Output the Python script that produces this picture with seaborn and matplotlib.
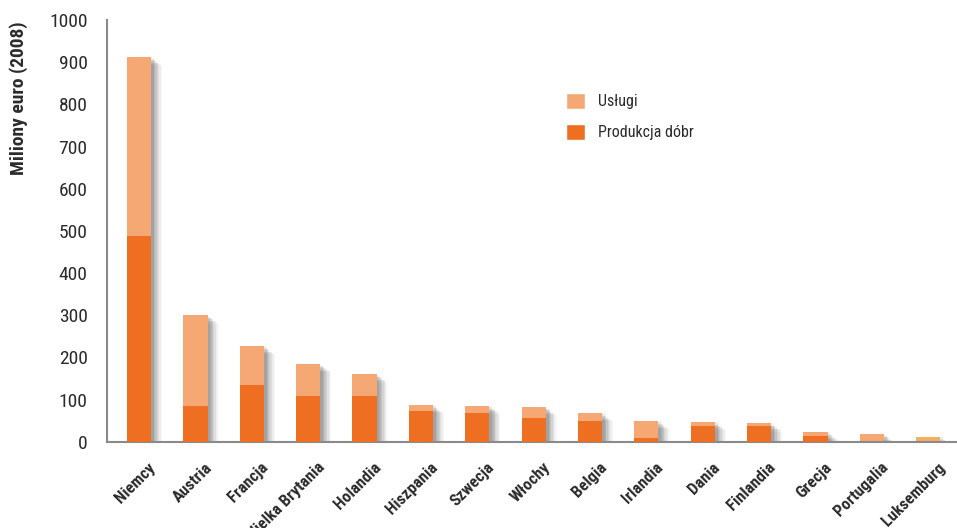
import numpy as np
import pandas as pd
import matplotlib
matplotlib.use("Agg")
import matplotlib.pyplot as plt
import matplotlib.patheffects as pe
import matplotlib.transforms as mtransforms
from matplotlib import font_manager
from matplotlib.patches import Patch
import seaborn as sns

# Data: million euro (2008)
countries = ["Niemcy", "Austria", "Francja", "Wielka Brytania", "Holandia",
             "Hiszpania", "Szwecja", "Włochy", "Belgia", "Irlandia", "Dania",
             "Finlandia", "Grecja", "Portugalia", "Luksemburg"]
total = [912, 300, 227, 184, 160, 87, 85, 82, 68, 49, 47, 44, 23, 18, 11]
produkcja = [488, 85, 134, 108, 108, 73, 68, 56, 49, 9, 37, 37, 14, 0, 0]
yticks = [0, 100, 200, 300, 400, 500, 600, 700, 800, 900, 1000]

df = pd.DataFrame({"kraj": countries, "razem": total, "produkcja": produkcja})

sns.set_theme(style="white")
available = {f.name for f in font_manager.fontManager.ttflist}
family = [f for f in ["Liberation Sans Narrow", "Roboto Condensed", "Open Sans", "DejaVu Sans"]
          if f in available] + ["DejaVu Sans"]
plt.rcParams["font.family"] = family

c_light = "#F5A873"
c_dark = "#EE6F22"
c_axis = "#8A8A8A"
c_text = "#2B2B2B"

fig = plt.figure(figsize=(9.57, 5.28), dpi=100)
ax = fig.add_axes([0.1118, 0.1634, 0.8882, 0.7987])

# soft drop shadow built from stacked translucent offsets
shadow = []
for dx, dy, a in [(8, -6, 0.04), (7, -5, 0.05), (6, -4, 0.07), (5, -4, 0.08),
                  (4, -3, 0.10), (3, -2, 0.12), (2, -1, 0.14)]:
    shadow.append(pe.SimplePatchShadow(offset=(dx, dy), shadow_rgbFace="#404040", alpha=a))
shadow.append(pe.Normal())

sns.barplot(data=df, x="kraj", y="razem", color=c_light, saturation=1,
            width=0.43, ax=ax, zorder=2, linewidth=0, edgecolor="none")
for p in ax.patches:
    p.set_path_effects(shadow)
n_light = len(ax.patches)
sns.barplot(data=df, x="kraj", y="produkcja", color=c_dark, saturation=1,
            width=0.43, ax=ax, zorder=3, linewidth=0, edgecolor="none")
ax.patches[n_light - 1].set_facecolor("#F5AE62")

ax.set_xlim(-0.568, 14.51)
ax.set_ylim(0, 1000)
ax.set_yticks(yticks)
ax.set_yticklabels([str(v) for v in yticks], fontsize=14, color=c_text)

# category labels, no tick marks at bar centres
ax.set_xticks(range(len(countries)))
ax.set_xticklabels(countries, rotation=45, ha="right", rotation_mode="anchor",
                   fontsize=12, fontweight="bold", color=c_text)
ax.tick_params(axis="x", which="major", length=0, pad=13)
offset = mtransforms.ScaledTranslation(9 / 100, 0, fig.dpi_scale_trans)
for lab in ax.get_xticklabels():
    lab.set_transform(lab.get_transform() + offset)

# divider ticks along the bottom axis
step = 1.0914
ax.set_xticks([-0.568 + step * k for k in range(14)], minor=True)
ax.tick_params(axis="x", which="minor", length=7, width=1.5, color=c_axis, direction="out")
ax.tick_params(axis="y", length=8, width=1.5, color=c_axis, direction="out", pad=6)

for s in ["top", "right"]:
    ax.spines[s].set_visible(False)
for s in ["left", "bottom"]:
    ax.spines[s].set_color(c_axis)
    ax.spines[s].set_linewidth(1.5)

ax.set_xlabel("")
ax.set_ylabel("Miliony euro (2008)", fontsize=14, fontweight="bold", color=c_text)
ax.yaxis.set_label_coords(-0.093, 0.815)

handles = [Patch(facecolor=c_light, label="Usługi"),
           Patch(facecolor=c_dark, label="Produkcja dóbr")]
ax.legend(handles=handles, loc="upper left", bbox_to_anchor=(0.523, 0.862),
          frameon=False, fontsize=11.5, handlelength=1.2, handleheight=1.2,
          labelspacing=0.9, handletextpad=0.8, labelcolor=c_text)

fig.savefig("out.png", dpi=100)
